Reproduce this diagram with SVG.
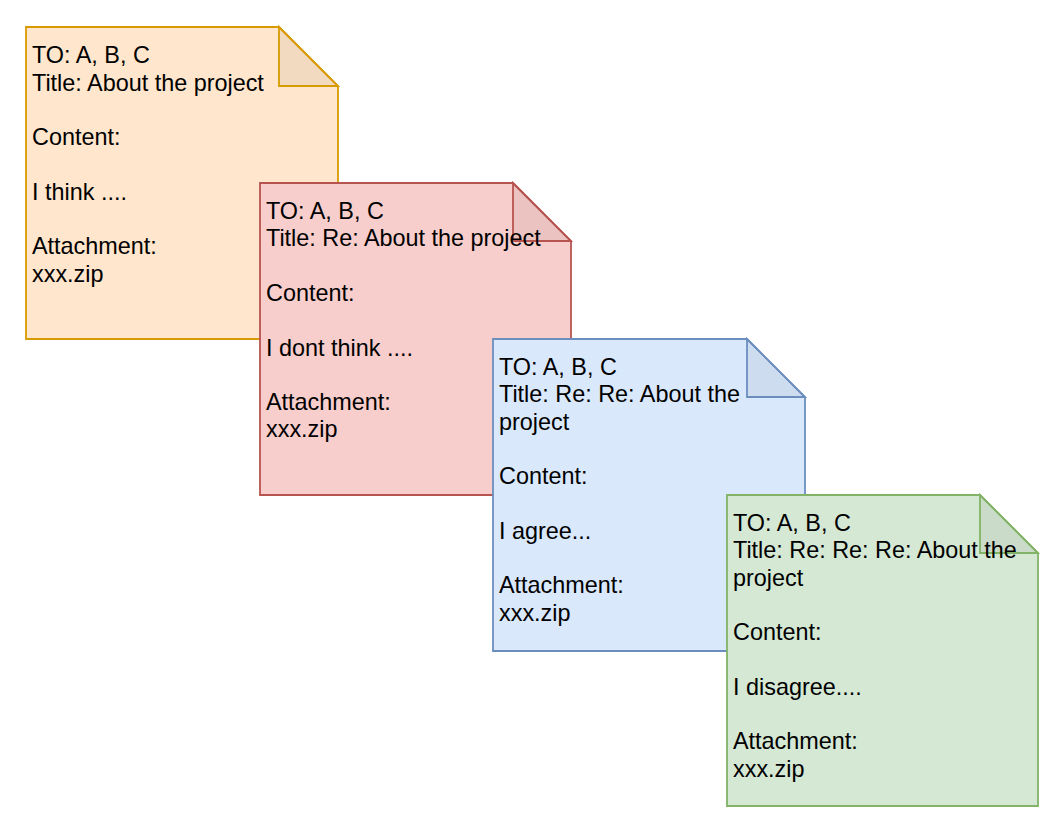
<svg xmlns="http://www.w3.org/2000/svg" width="1059" height="829" viewBox="0 0 1059 829">
<style>
.t{font-family:"Liberation Sans",Arial,sans-serif;font-size:23.4px;fill:#000}
.n{stroke-width:1.8}
.f{fill:#000;fill-opacity:0.05}
</style>
<rect width="1059" height="829" fill="#fff"/>
<g id="note1">
<path class="n" d="M26 27H279L338 86V339H26Z" fill="#ffe6cc" stroke="#d79b00"/>
<path class="f n" d="M279 27V86H338Z" stroke="#d79b00"/>
<text class="t" x="32" y="63.3"><tspan x="32">TO: A, B, C</tspan><tspan x="32" dy="27.3">Title: About the project</tspan><tspan x="32" dy="54.6">Content:</tspan><tspan x="32" dy="54.6">I think ....</tspan><tspan x="32" dy="54.6">Attachment:</tspan><tspan x="32" dy="27.3">xxx.zip</tspan></text>
</g>
<g id="note2">
<path class="n" d="M260 183H513L571 241V495H260Z" fill="#f8cecc" stroke="#b85450"/>
<path class="f n" d="M513 183V241H571Z" stroke="#b85450"/>
<text class="t" x="266" y="219"><tspan x="266">TO: A, B, C</tspan><tspan x="266" dy="27.3">Title: Re: About the project</tspan><tspan x="266" dy="54.6">Content:</tspan><tspan x="266" dy="54.6">I dont think ....</tspan><tspan x="266" dy="54.6">Attachment:</tspan><tspan x="266" dy="27.3">xxx.zip</tspan></text>
</g>
<g id="note3">
<path class="n" d="M493 339H747L805 397V651H493Z" fill="#dae8fc" stroke="#6c8ebf"/>
<path class="f n" d="M747 339V397H805Z" stroke="#6c8ebf"/>
<text class="t" x="499" y="375"><tspan x="499">TO: A, B, C</tspan><tspan x="499" dy="27.3">Title: Re: Re: About the</tspan><tspan x="499" dy="27.3">project</tspan><tspan x="499" dy="54.6">Content:</tspan><tspan x="499" dy="54.6">I agree...</tspan><tspan x="499" dy="54.6">Attachment:</tspan><tspan x="499" dy="27.3">xxx.zip</tspan></text>
</g>
<g id="note4">
<path class="n" d="M727 495H980L1038 553V806H727Z" fill="#d5e8d4" stroke="#82b366"/>
<path class="f n" d="M980 495V553H1038Z" stroke="#82b366"/>
<text class="t" x="733" y="531"><tspan x="733">TO: A, B, C</tspan><tspan x="733" dy="27.3">Title: Re: Re: Re: About the</tspan><tspan x="733" dy="27.3">project</tspan><tspan x="733" dy="54.6">Content:</tspan><tspan x="733" dy="54.6">I disagree....</tspan><tspan x="733" dy="54.6">Attachment:</tspan><tspan x="733" dy="27.3">xxx.zip</tspan></text>
</g>
<g id="connectors"/>
</svg>
